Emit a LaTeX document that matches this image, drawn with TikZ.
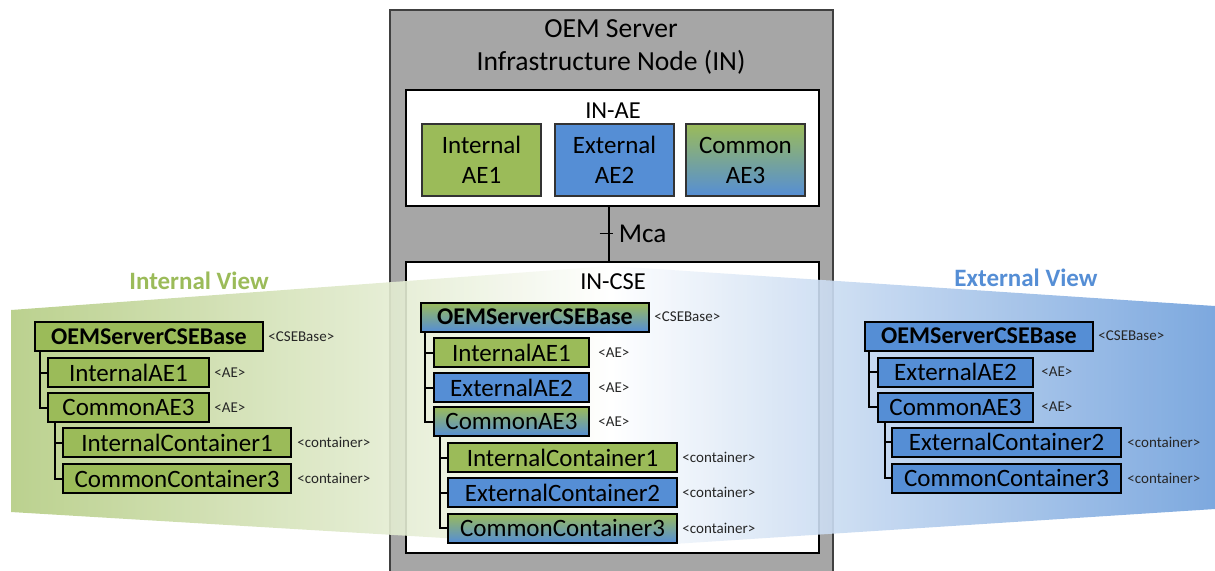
\documentclass[tikz,border=0pt]{standalone}
\usepackage{fontspec}
\setmainfont{Carlito}
\usetikzlibrary{positioning}
\definecolor{aegreen}{HTML}{9BBB59}
\definecolor{aeblue}{HTML}{558ED5}
\definecolor{ingray}{HTML}{A6A6A6}
\tikzset{
	res/.style={draw=black, line width=1pt, minimum height=14.5pt, inner sep=0pt, anchor=west, font=\fontsize{12.5}{14}\selectfont},
	baseres/.style={minimum width=114pt, font=\fontsize{12}{14}\selectfont\bfseries},
	intres/.style={res, fill=aegreen},
	extres/.style={res, fill=aeblue},
	comres/.style={res, top color=aegreen, bottom color=aeblue},
	restag/.style={font=\fontsize{7.5}{9}\selectfont, inner sep=1pt, text=black!85},
	treeline/.style={line width=1pt},
	aebox/.style={draw=black!80, line width=0.7pt, minimum width=59.5pt, minimum height=36pt, inner sep=0pt, align=center, font=\fontsize{12.5}{15}\selectfont},
	entity/.style={draw=black, line width=1pt, fill=white, minimum width=206.5pt, inner sep=0pt},
	viewlbl/.style={font=\fontsize{12.5}{15}\selectfont\bfseries},
}
\begin{document}
\begin{tikzpicture}[x=0.5pt, y=-0.5pt]
					\useasboundingbox (0,0) rectangle (1215,570);

					%Server node
					\fill[ingray] (390,10) rectangle (833,580);
					\draw[line width=1pt, black!75] (390,580) -- (390,10) -- (833,10) -- (833,580);
					\node[align=center, font=\fontsize{13.8}{16.5}\selectfont] (title) at (611,47) {OEM Server\\Infrastructure Node (IN)};

					%IN-AE
					\node[entity, minimum height=58pt] (inae) at (612.5,148) {};
					\node[font=\fontsize{12.2}{14}\selectfont] (inaelbl) at (613,111) {IN-AE};
					\node[aebox, fill=aegreen] (intae) at (481.5,160) {Internal\\AE1};
					\node[aebox, fill=aeblue] (extae) at (614.5,160) {External\\AE2};
					\node[aebox, top color=aegreen, bottom color=aeblue] (comae) at (745.5,160) {Common\\AE3};

					%IN-CSE
					\node[entity, minimum height=145.5pt] (incse) at (612.5,407.5) {};

					%Mca
					\draw[line width=1pt] ([xshift=-2pt]inae.south) -- ([xshift=-2pt]incse.north) coordinate[pos=0.49] (mca);
					\draw[line width=0.8pt] ([xshift=-4.5pt]mca) -- ([xshift=2pt]mca);
					\node[right=4pt of mca, inner sep=1pt, font=\fontsize{13.6}{15}\selectfont] (mcalbl) {Mca};

					%Views
					\shade[left color=aegreen!75!white, right color=white, fill opacity=0.9] (11,310) -- (611,266) -- (611,548) -- (11,512) -- cycle;
					\shade[left color=white, right color=aeblue!85!white, fill opacity=0.9] (611,266) -- (1215,306) -- (1215,509) -- (611,548) -- cycle;
					\node[viewlbl, text=aegreen] (intview) at (199,281) {Internal View};
					\node[viewlbl, text=aeblue] (extview) at (1026,278) {External View};
					\node[font=\fontsize{12.2}{14}\selectfont] (incselbl) at (613,282) {IN-CSE};

					%Internal view tree
					\node[intres, baseres] (lbase) at (34,336.5) {OEMServerCSEBase};
					\node[intres, minimum width=80.5pt] (lae1) at (47,372.5) {InternalAE1};
					\node[intres, minimum width=80.5pt] (lae3) at (47,407.5) {CommonAE3};
					\node[intres, minimum width=114pt] (lct1) at (62,442.5) {InternalContainer1};
					\node[intres, minimum width=114pt] (lct3) at (62,478.5) {CommonContainer3};
					\node[restag, right=1pt of lbase] (lbasetag) {<CSEBase>};
					\node[restag, right=1pt of lae1] (lae1tag) {<AE>};
					\node[restag, right=1pt of lae3] (lae3tag) {<AE>};
					\node[restag, right=1.5pt of lct1] (lct1tag) {<container>};
					\node[restag, right=1.5pt of lct3] (lct3tag) {<container>};
					\draw[treeline] ([xshift=3pt]lbase.south west) |- (lae1.west);
					\draw[treeline] ([xshift=3pt]lbase.south west) |- (lae3.west);
					\draw[treeline] ([xshift=4pt]lae3.south west) |- (lct1.west);
					\draw[treeline] ([xshift=4pt]lae3.south west) |- (lct3.west);

					%IN-CSE tree
					\node[comres, baseres] (mbase) at (420,317) {OEMServerCSEBase};
					\node[intres, minimum width=77.5pt] (mae1) at (433,352.5) {InternalAE1};
					\node[extres, minimum width=77.5pt] (mae2) at (433,387.5) {ExternalAE2};
					\node[comres, minimum width=77.5pt] (mae3) at (433,421.5) {CommonAE3};
					\node[intres, minimum width=114.5pt] (mct1) at (447,457.5) {InternalContainer1};
					\node[extres, minimum width=114.5pt] (mct2) at (447,492.5) {ExternalContainer2};
					\node[comres, minimum width=114.5pt] (mct3) at (447,528) {CommonContainer3};
					\node[restag, right=1pt of mbase] (mbasetag) {<CSEBase>};
					\node[restag, right=3pt of mae1] (mae1tag) {<AE>};
					\node[restag, right=3pt of mae2] (mae2tag) {<AE>};
					\node[restag, right=3pt of mae3] (mae3tag) {<AE>};
					\node[restag, right=1pt of mct1] (mct1tag) {<container>};
					\node[restag, right=1pt of mct2] (mct2tag) {<container>};
					\node[restag, right=1pt of mct3] (mct3tag) {<container>};
					\draw[treeline] ([xshift=2.5pt]mbase.south west) |- (mae1.west);
					\draw[treeline] ([xshift=2.5pt]mbase.south west) |- (mae2.west);
					\draw[treeline] ([xshift=2.5pt]mbase.south west) |- (mae3.west);
					\draw[treeline] ([xshift=3.5pt]mae3.south west) |- (mct1.west);
					\draw[treeline] ([xshift=3.5pt]mae3.south west) |- (mct2.west);
					\draw[treeline] ([xshift=3.5pt]mae3.south west) |- (mct3.west);

					%External view tree
					\node[extres, baseres] (rbase) at (864,336) {OEMServerCSEBase};
					\node[extres, minimum width=77.5pt] (rae2) at (877,372) {ExternalAE2};
					\node[extres, minimum width=77.5pt] (rae3) at (877,407) {CommonAE3};
					\node[extres, minimum width=114.5pt] (rct2) at (891,442) {ExternalContainer2};
					\node[extres, minimum width=114.5pt] (rct3) at (891,478) {CommonContainer3};
					\node[restag, right=1pt of rbase] (rbasetag) {<CSEBase>};
					\node[restag, right=2.5pt of rae2] (rae2tag) {<AE>};
					\node[restag, right=2.5pt of rae3] (rae3tag) {<AE>};
					\node[restag, right=1.5pt of rct2] (rct2tag) {<container>};
					\node[restag, right=1.5pt of rct3] (rct3tag) {<container>};
					\draw[treeline] ([xshift=2.5pt]rbase.south west) |- (rae2.west);
					\draw[treeline] ([xshift=2.5pt]rbase.south west) |- (rae3.west);
					\draw[treeline] ([xshift=4pt]rae3.south west) |- (rct2.west);
					\draw[treeline] ([xshift=4pt]rae3.south west) |- (rct3.west);
				\end{tikzpicture}
\end{document}
